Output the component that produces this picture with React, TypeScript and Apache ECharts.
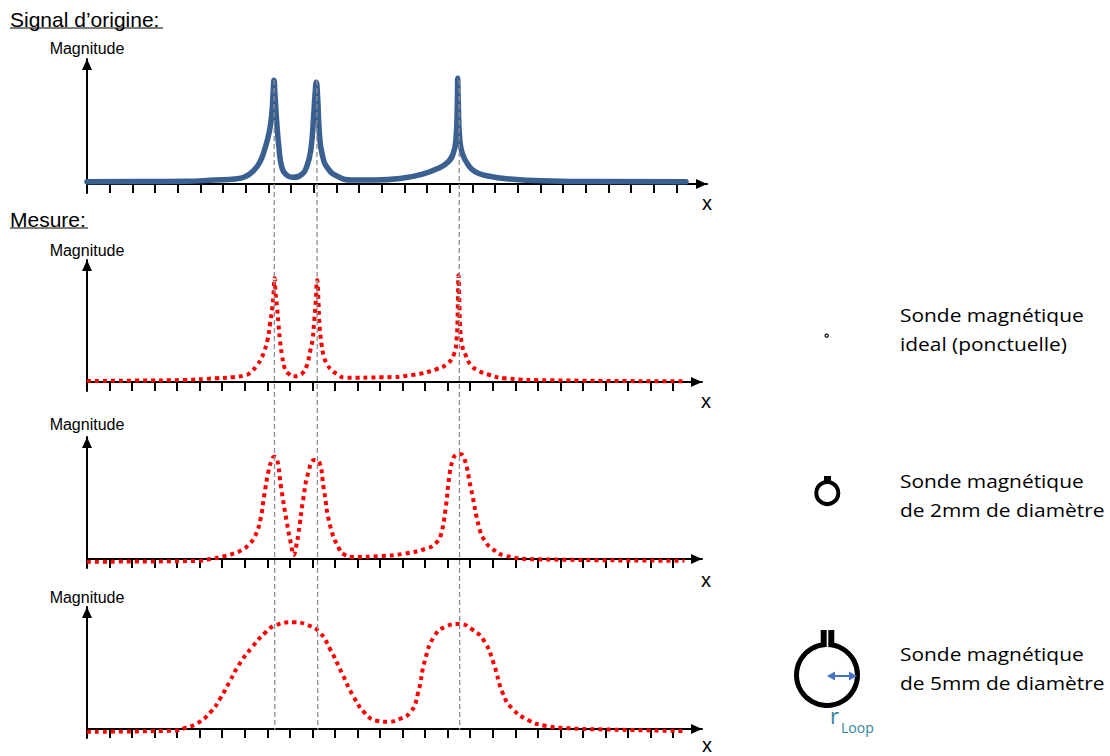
import React, { useEffect, useRef } from "react";
import * as echarts from "echarts";

const originalSignal = [[0,2.3],[50,2.4],[96.7,2.7],[128.8,4],[148,5],[158,7.3],[166.3,13],[173,22.3],[178,35.7],[182.3,52.3],[184.7,69],[186,89],[187,103.7],[188,89],[189.7,62.3],[192,35.7],[194.7,17.3],[198.7,9.7],[206.3,6.7],[214,9],[219.7,17.3],[224,35.7],[226.7,69],[228,89],[229.3,101.7],[230.7,85.7],[232.3,52.3],[235.3,29],[241.3,15],[251.3,7.3],[264.7,4],[288,4],[314.7,5.7],[334.7,9.7],[351.3,15.7],[361.3,22.3],[366.3,30.7],[369,45.7],[370.3,79],[370.7,105.7],[371.3,79],[372.7,45.7],[375.3,30.7],[381.3,19],[388,12.3],[399.7,8.3],[422.6,5],[464,3],[510,2.4],[599,2.3]];
const idealProbe = [[0,1],[50,1.4],[96.7,2],[129,3.7],[147.4,5],[157,6.5],[163,9],[170,16.7],[174,23],[177,30],[180.5,42],[183,58],[185,72],[186.3,85],[187.6,104],[188.5,90],[190,75],[191.5,58],[193,41.7],[195,27],[198,13],[202,8],[207,5.7],[212,6.5],[216.5,10],[220,17],[223,30],[225.5,42],[227,58],[228.7,80],[230.2,102],[231.5,80],[232.5,58],[234.5,38],[237,25],[240,18],[243.5,13],[250,8],[258,4.3],[295,4.7],[327,7.3],[350,13],[360,18],[366.5,26.7],[369.5,41.7],[370.7,70],[371.5,106.7],[372.4,80],[373,58],[375.5,35],[379,26],[384,16.7],[392,11],[400,7.7],[418,3.7],[464,1.7],[599,0.7]];
const probe2mm = [[0,-2.7],[109,-2],[124,0],[136,2.5],[147.3,5.7],[155,9],[160.8,13.3],[167.7,22.3],[173.3,39],[177,62.3],[181.7,89],[184.5,98],[187.1,102.3],[189.9,100.7],[194,72.3],[200,35.7],[204,15],[206.8,4],[209,12],[211.5,25.7],[216.1,59],[221.5,87.3],[227.5,99],[232.1,97.3],[236.7,70.7],[243.4,32.3],[252.8,9],[258,4],[264.3,2],[294,3],[317,5.3],[340,10.7],[349,16],[353.8,24],[358.4,49],[362.7,85.7],[365.5,98],[368.7,104],[372.5,105],[376.7,102.3],[383.6,72.3],[392.8,29],[398,18],[404.6,10.7],[418.1,3.3],[450.3,-0.3],[597.4,-1.7]];
const probe5mm = [[0,-2.7],[87.6,-1.7],[96.7,0.7],[110.4,5.7],[124,17.3],[133.4,30.7],[142.6,47.3],[151.8,64],[165.5,82.3],[179.3,97.3],[188.6,103.7],[206.8,106.7],[220.5,104],[232.1,97.3],[243.6,79],[255,55.7],[266.6,32.3],[278.2,15.7],[289.5,8.3],[301,7.3],[312.5,10],[324,17.3],[331,35.7],[338,69],[347,92.3],[358.4,102.3],[372.2,105],[386,99],[397.6,87.3],[406.6,65.7],[415.8,35.7],[425,20.7],[441,9],[459.3,3],[482.2,0.7],[510,-0.3],[597.4,-2]];
const ticksTop = [0,22.67,45.34,68.01,90.68,113.35,136.02,158.69,181.36,204.03,226.7,249.37,272.04,294.71,317.38,340.05,362.72,385.39,408.06,430.73,453.4,476.07,498.74,521.41,544.08,566.75,589.42];
const ticksOther = [0,22.54,45.08,67.62,90.16,112.7,135.24,157.78,180.32,202.86,225.4,247.94,270.48,293.02,315.56,338.1,360.64,383.18,405.72,428.26,450.8,473.34,495.88,518.42,540.96,563.5,586.04];
const guideLines = [[[187.1,676],[187.8,26]],[[229.8,676],[230.8,26]],[[372.1,676],[372.7,26]]];
const headings = ["Signal d’origine:", "Mesure:"];
const yName = "Magnitude";
const xName = "x";
const probeLabels = [["Sonde magnétique","ideal (ponctuelle)"],["Sonde magnétique","de 2mm de diamètre"],["Sonde magnétique","de 5mm de diamètre"]];

const panels = [
  { top: 59, base: 184, width: 620, data: originalSignal, ticks: ticksTop },
  { top: 260, base: 382, width: 615, data: idealProbe, ticks: ticksOther },
  { top: 437, base: 559, width: 615, data: probe2mm, ticks: ticksOther },
  { top: 607, base: 729, width: 615, data: probe5mm, ticks: ticksOther },
];
const SANS = "'Liberation Sans', Arial, sans-serif";
const PROBE_FONT = "'Open Sans', sans-serif";

function buildOption() {
  const below = 9;
  const axisStyle = { color: "#000", width: 2 };
  const grid: any[] = panels.map((p) => ({ left: 87, top: p.top, width: p.width, height: p.base - p.top + below }));
  grid.push({ left: 87, top: 0, width: 620, height: 756 });
  const xAxis: any[] = panels.map((p, i) => ({
    type: "value", gridIndex: i, min: 0, max: p.width, splitLine: { show: false },
    axisLine: { show: true, onZero: true, symbol: ["none", "triangle"], symbolSize: [10, 11], symbolOffset: [0, -5.5], lineStyle: axisStyle },
    axisTick: { show: true, inside: false, length: 9, customValues: p.ticks, lineStyle: axisStyle },
    axisLabel: { show: false },
  }));
  xAxis.push({ type: "value", gridIndex: 4, min: 0, max: 620, show: false });
  const yAxis: any[] = panels.map((p, i) => ({
    type: "value", gridIndex: i, min: -below, max: p.base - p.top, splitLine: { show: false },
    axisLine: { show: true, onZero: false, symbol: ["none", "triangle"], symbolSize: [10, 11], symbolOffset: [0, -5.5], lineStyle: axisStyle },
    axisTick: { show: false }, axisLabel: { show: false },
  }));
  yAxis.push({ type: "value", gridIndex: 4, min: 0, max: 756, show: false });
  const series: any[] = panels.map((p, i) => ({
    type: "line", xAxisIndex: i, yAxisIndex: i, data: p.data, symbol: "none", smooth: 0.5, clip: false, z: 3,
    lineStyle: i === 0 ? { color: "#3a6091", width: 5.5, cap: "round", join: "round" } : { color: "#ff0000", width: 4, type: [4, 4] },
  }));
  guideLines.forEach((g) => series.push({
    type: "line", xAxisIndex: 4, yAxisIndex: 4, data: g, symbol: "none", silent: true, z: 5,
    lineStyle: { color: "#8f8f8f", width: 1.3, type: [5, 3] },
  }));

  const txt = (text: string, x: number, y: number, fontSize: number, extra: any = {}, el: any = {}) => ({
    type: "text", x, y, silent: true, ...el,
    style: { text, fontSize, fontFamily: SANS, fill: "#000", verticalAlign: "middle", ...extra },
  });
  const g: any[] = [];
  g.push(txt(headings[0], 10, 19, 21));
  g.push({ type: "line", shape: { x1: 10, y1: 28, x2: 163, y2: 28 }, style: { stroke: "#000", lineWidth: 1.2 } });
  g.push(txt(headings[1], 10, 219, 21));
  g.push({ type: "line", shape: { x1: 10, y1: 228, x2: 88, y2: 228 }, style: { stroke: "#000", lineWidth: 1.2 } });
  [48, 250, 424, 597].forEach((y) => g.push(txt(yName, 87, y, 16, { align: "center" })));
  [[707, 203], [706, 401], [706, 580], [707, 745]].forEach(([x, y]) => g.push(txt(xName, x, y, 20, { align: "center" })));
  [[315, 344], [481, 510], [654, 683]].forEach((ys, i) => {
    g.push(txt(probeLabels[i][0], 900, ys[0], 19, { fontFamily: PROBE_FONT }, { scaleX: 1.1 }));
    g.push(txt(probeLabels[i][1], 900, ys[1], 19, { fontFamily: PROBE_FONT }, { scaleX: 1.1 }));
  });
  g.push({ type: "circle", shape: { cx: 826.7, cy: 335.7, r: 1.6 }, style: { fill: "#fff", stroke: "#000", lineWidth: 1.2 } });
  g.push({ type: "circle", shape: { cx: 827.3, cy: 493, r: 11 }, style: { fill: "#fff", stroke: "#000", lineWidth: 4 } });
  g.push({ type: "rect", shape: { x: 824, y: 476, width: 7, height: 6 }, style: { fill: "#000" } });
  g.push({ type: "circle", shape: { cx: 827, cy: 675, r: 30.5 }, style: { fill: "#fff", stroke: "#000", lineWidth: 5 } });
  g.push({ type: "rect", shape: { x: 820.7, y: 630, width: 6, height: 16 }, style: { fill: "#000" } });
  g.push({ type: "rect", shape: { x: 828.3, y: 630, width: 6, height: 16 }, style: { fill: "#000" } });
  g.push({ type: "rect", shape: { x: 826.7, y: 642, width: 1.6, height: 7 }, style: { fill: "#fff" } });
  g.push({ type: "line", shape: { x1: 831, y1: 676, x2: 853, y2: 676 }, style: { stroke: "#4472c4", lineWidth: 2 } });
  g.push({ type: "polygon", shape: { points: [[827, 676], [835, 671.5], [835, 680.5]] }, style: { fill: "#4472c4" } });
  g.push({ type: "polygon", shape: { points: [[857, 676], [849, 671.5], [849, 680.5]] }, style: { fill: "#4472c4" } });
  g.push(txt("r", 830, 715, 22, { fontFamily: PROBE_FONT, fill: "#31859c" }));
  g.push(txt("Loop", 841, 727, 14, { fontFamily: PROBE_FONT, fill: "#31859c" }));

  return { animation: false, backgroundColor: "#fff", grid, xAxis, yAxis, series, graphic: { elements: g } };
}

export default function App() {
  const ref = useRef<HTMLDivElement>(null);
  useEffect(() => {
    document.body.style.margin = "0";
    const chart = echarts.init(ref.current!, undefined, { renderer: "svg" });
    chart.setOption(buildOption() as any);
    return () => chart.dispose();
  }, []);
  return <div ref={ref} style={{ width: 1110, height: 756 }} />;
}
